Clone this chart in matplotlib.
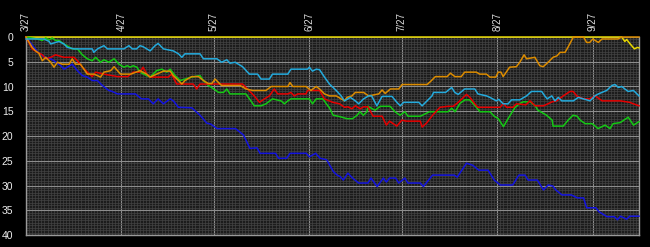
import matplotlib
matplotlib.use('Agg')
import matplotlib.pyplot as plt
import pandas as pd
from matplotlib.ticker import FixedLocator, MultipleLocator

# x = days since 3/27, y = games behind the leader
season_start = pd.Timestamp('2015-03-27')
season_end = pd.Timestamp('2015-10-12')
tick_dates = ['2015-03-27', '2015-04-27', '2015-05-27', '2015-06-27',
              '2015-07-27', '2015-08-27', '2015-09-27']
tick_labels = ['3/27', '4/27', '5/27', '6/27', '7/27', '8/27', '9/27']
gb_ticks = [0, 5, 10, 15, 20, 25, 30, 35, 40]

yellow = [(0, 0), (193.4, 0), (194.4, 0.9), (195, 0.5), (196, 1.3), (197.5, 2.4),
          (198.5, 2.1), (199, 2.2)]

orange = [(0, 0), (2, 2.1), (3.1, 2.8), (4.2, 3.3), (5.3, 4.8), (6.4, 4.1), (8, 5.1),
          (9.1, 6.1), (10.2, 5.1), (11.8, 5.5), (14, 5.5), (15, 4.4), (16.1, 5.5),
          (17.7, 5.5), (18.8, 6.5), (19.9, 7.5), (22, 7.5), (23.2, 7.8), (24.2, 8.1),
          (25.3, 7.1), (27.5, 6.8), (28.6, 6.0), (29.7, 6.8), (30.7, 7.5), (34, 7.5),
          (37, 6.8), (39.2, 7.5), (40.3, 8.1), (42.4, 7.5), (44.6, 6.9), (46.8, 6.9),
          (47.8, 7.8), (49.5, 8.8), (50.6, 9.5), (51.6, 8.8), (53.8, 8.0), (56, 8.0),
          (57.6, 8.8), (59.2, 9.4), (60.3, 9.4), (61.4, 8.5), (62.5, 9.2), (63.5, 9.8),
          (69.5, 9.8), (71.4, 10.5), (73.6, 10.8), (77.9, 10.8), (79.6, 10.0), (85, 10.0),
          (85.7, 9.2), (86.6, 10.0), (90.9, 10.0), (92.5, 10.8), (94.2, 10.0), (95.3, 10.5),
          (96.9, 11.5), (98.5, 11.9), (100.7, 11.9), (102.3, 12.5), (103.4, 12.9),
          (104.2, 12.2), (105.8, 11.9), (106.9, 11.2), (109.6, 11.2), (111.2, 11.9),
          (114.5, 11.5), (115.6, 10.7), (116.6, 11.4), (118.3, 10.5), (121, 10.5),
          (122.1, 9.6), (130.2, 9.6), (131.3, 9.0), (132.9, 8.0), (136.7, 8.0), (137.8, 7.3),
          (139.2, 8.0), (141.3, 8.0), (142.4, 7.1), (146.2, 7.1), (147.3, 7.5), (149.5, 7.5),
          (150.6, 8.1), (152.5, 8.1), (153.3, 7.1), (154.2, 7.1), (154.9, 8.0), (157, 6.1),
          (159.2, 6.0), (160.3, 5.1), (161.7, 3.6), (162.5, 4.4), (165.2, 4.1), (166.8, 5.8),
          (167.9, 6.0), (169.5, 5.1), (171.1, 4.1), (172.4, 3.8), (173.4, 3.1), (175, 3.1),
          (176, 2.0), (177.7, 0), (181, 0), (182, 1.1), (183, 1.1), (184, 0.4), (185.8, 1.1),
          (187, 0.4), (192.2, 0.4), (193.4, 0), (199, 0)]

cyan = [(0, 0.4), (5.8, 0.4), (7.5, 0.9), (8, 1.4), (9.6, 1.1), (10.7, 0.9), (12.3, 1.4),
        (13.4, 2.1), (15.6, 2.4), (21.5, 2.4), (22, 3.1), (23.2, 2.4), (25.3, 1.75),
        (26.4, 2.4), (31.8, 2.4), (33.4, 1.75), (34.5, 2.4), (35.9, 2.4), (37, 1.75),
        (38, 1.95), (39.2, 2.4), (40.3, 2.8), (41.9, 1.75), (42.9, 1.3), (44.6, 2.4),
        (47.8, 2.8), (49.5, 3.4), (50.6, 4.1), (51.6, 3.4), (56.5, 3.4), (57.6, 4.4),
        (62, 4.4), (63.5, 5.1), (65.2, 4.6), (66.2, 5.3), (67.9, 5.1), (70.3, 6.0),
        (72.5, 7.5), (75.2, 7.5), (76.3, 8.5), (79, 8.5), (80, 7.5), (85, 7.5), (86, 6.5),
        (91.4, 6.5), (92, 6.1), (93, 6.9), (94.2, 6.5), (95.3, 6.6), (96.9, 8.1),
        (98.5, 9.5), (100.7, 10.8), (102.3, 11.9), (103.4, 12.9), (105.3, 12.2),
        (106.9, 12.9), (108, 13.5), (109.6, 12.5), (111.2, 11.9), (112.2, 11.9),
        (113.9, 13.9), (115.6, 12.0), (118.8, 12.0), (120.4, 13.2), (121.5, 13.9),
        (122.6, 13.2), (127.5, 13.2), (128.6, 13.9), (130.2, 12.9), (131.8, 11.9),
        (132.3, 11.2), (136.2, 11.2), (137.2, 10.7), (138.2, 10.2), (139.2, 11.2),
        (140.3, 11.6), (142.4, 10.5), (145.7, 10.5), (146.7, 11.5), (149.5, 11.9),
        (150.6, 12.2), (152.7, 12.9), (153.5, 12.6), (154.9, 13.5), (156.5, 13.5),
        (157.6, 12.7), (160.3, 12.7), (162.5, 11.9), (164.1, 11.0), (167.4, 11.0),
        (168.4, 11.9), (169.2, 12.5), (170.7, 11.9), (171.7, 12.9), (172.8, 12.2),
        (173.9, 12.9), (177.7, 12.9), (179.3, 12.2), (183.1, 12.9), (184.7, 11.9),
        (185.8, 11.5), (188.5, 10.8), (190.2, 9.8), (191.2, 9.6), (192.3, 10.2),
        (193.4, 10.0), (194.4, 10.5), (195.5, 11.0), (197.2, 10.8), (199, 11.9)]

red = [(0, 0), (2, 2.4), (3.7, 3.1), (5.3, 3.6), (6.4, 4.4), (8, 4.1), (9.6, 3.6),
       (12.3, 4.1), (15.6, 4.1), (16.7, 4.8), (18.3, 6.1), (19.9, 7.1), (21.5, 8.0),
       (22.6, 7.1), (25.3, 7.5), (29.7, 8.0), (33, 8.0), (34.8, 7.1), (37, 7.1), (38, 6.1),
       (39.2, 7.5), (40.3, 8.1), (46.2, 8.1), (47.3, 7.5), (48.9, 9.5), (54.3, 9.5),
       (55.4, 10.5), (56.5, 9.5), (70.3, 9.5), (71.9, 10.5), (74.1, 11.9), (75.8, 13.2),
       (77.4, 12.5), (79, 11.9), (80.6, 10.5), (81.7, 11.5), (85, 11.5), (86, 11.2),
       (87.1, 11.9), (88.2, 11.5), (90.9, 11.5), (91.4, 10.8), (95.3, 10.8), (96.9, 12.5),
       (99.6, 13.2), (101.8, 13.5), (103.4, 14.2), (104.5, 14.1), (105.8, 14.5),
       (106.9, 13.9), (108.5, 14.5), (109.6, 14.1), (111, 14.1), (112.7, 16.0),
       (115.6, 16.0), (117, 17.8), (118, 17.0), (120.4, 18.0), (122, 16.8), (123.5, 17.0),
       (128, 17.0), (128.6, 18.2), (130, 17.4), (132, 15.8), (134.4, 14.2), (137, 14.0),
       (138.7, 14.0), (140.3, 13.2), (142, 12.2), (143, 11.6), (144.1, 12.2), (145.7, 13.5),
       (146.7, 14.2), (153.9, 14.2), (155, 13.4), (156, 14.2), (158.1, 14.2), (159.2, 13.5),
       (162.3, 13.7), (163.6, 12.9), (165.3, 13.9), (168, 13.9), (170.8, 13.1),
       (172.3, 12.9), (174.4, 11.9), (176.6, 11.0), (177.6, 11.0), (178.8, 11.9),
       (181, 12.5), (183, 12.5), (184.8, 11.9), (187, 12.9), (192.9, 12.9), (196, 13.2),
       (197.2, 13.5), (199, 13.9)]

green = [(0, 0), (3.7, 0.4), (5.3, 0.7), (6.4, 0.2), (7.5, 0.6), (8.5, 0.2), (9.6, 0.7),
         (10.7, 0.7), (12.3, 1.4), (15, 2.4), (16.7, 2.4), (18.3, 3.6), (19.9, 4.4),
         (21.5, 4.8), (22.6, 4.1), (24.2, 5.1), (25.3, 4.6), (26.9, 5.1), (28.6, 4.4),
         (30.2, 5.5), (31.8, 6.1), (32.9, 5.8), (33.8, 6.1), (34.8, 5.8), (36, 6.1),
         (37, 7.1), (39.2, 7.8), (40.3, 8.1), (42.4, 6.8), (44.1, 6.5), (45.7, 7.1),
         (46.8, 6.5), (48.4, 7.8), (50.1, 8.8), (51.6, 8.5), (53.8, 8.1), (56.5, 7.8),
         (57.6, 8.8), (59.2, 9.8), (60.3, 10.2), (62.5, 11.2), (64.1, 11.2), (65.2, 10.5),
         (66.2, 11.5), (71.4, 11.5), (73, 12.9), (74.1, 13.9), (76.3, 13.9), (77.9, 13.5),
         (80, 12.5), (82.8, 12.9), (83.9, 13.5), (85, 12.9), (86, 12.5), (92, 12.5),
         (93, 13.5), (94.2, 12.5), (96.4, 12.5), (97.5, 13.5), (98.5, 14.3), (99.7, 15.8),
         (102, 16.1), (104.2, 16.5), (106, 16.5), (107.5, 15.8), (108.4, 15.1),
         (109.5, 15.8), (110.7, 15.1), (111, 14.0), (113.3, 14.8), (115, 14.0), (118.2, 14.0),
         (119.8, 15.1), (121.4, 15.8), (123, 15.1), (124, 16.0), (128, 16.0), (131, 15.1),
         (137, 15.1), (138.2, 14.4), (139.3, 15.1), (140.9, 13.4), (142.5, 12.7),
         (144, 12.7), (145.8, 13.9), (147.4, 15.1), (150.6, 15.1), (152, 16.0),
         (153.3, 16.5), (155, 18.1), (156.5, 16.5), (158.8, 14.2), (160.4, 13.4),
         (161.4, 13.1), (163.6, 13.1), (165.3, 13.9), (166.2, 14.8), (169, 15.8),
         (170.8, 16.8), (171.1, 18.0), (174.4, 18.0), (176, 16.8), (177.6, 15.8),
         (178.9, 16.0), (179.9, 16.8), (181.5, 17.5), (183.8, 17.5), (185.7, 18.5),
         (188, 17.8), (189.6, 18.5), (190.6, 17.5), (192.9, 17.3), (195.5, 16.2),
         (197.2, 17.8), (199, 17.1)]

blue = [(0, 0), (2.6, 2.1), (4.2, 3.3), (5.3, 3.8), (6.4, 4.1), (8, 4.4), (9.1, 4.8),
        (11.3, 5.8), (12.3, 6.5), (13.4, 6.1), (15, 5.5), (16.7, 6.8), (18.3, 7.8),
        (19.9, 8.1), (21.5, 8.8), (23.2, 8.8), (24.8, 9.8), (26.9, 10.8), (28, 11.0),
        (29.7, 11.5), (35.5, 11.5), (37.5, 12.5), (39.7, 12.5), (41.3, 13.5), (42.9, 12.5),
        (44.6, 13.5), (46.8, 12.5), (47.8, 12.9), (49.5, 14.2), (53.8, 14.3), (56.5, 15.8),
        (58.7, 17.4), (60, 17.6), (62, 18.5), (68, 18.5), (70.6, 19.8), (72.7, 22.5),
        (75, 22.4), (76, 23.5), (81, 23.5), (82, 24.5), (84.6, 24.5), (85.7, 23.5),
        (91, 23.5), (92, 24.2), (94, 23.5), (95.5, 24.5), (97.6, 24.8), (99.8, 27.2),
        (101, 27.9), (102, 28.2), (103, 28.9), (104.5, 27.5), (106, 28.5), (108, 29.5),
        (111, 29.5), (112, 28.5), (114, 30.2), (116, 28.5), (117, 29.3), (118, 28.5),
        (120, 28.5), (121, 29.5), (123, 28.5), (124, 29.5), (128, 29.5), (129, 30.2),
        (132, 27.9), (139, 27.9), (140, 28.3), (143, 25.5), (145, 25.9), (147, 26.9),
        (150, 26.9), (152, 28.9), (154, 29.9), (158, 29.9), (160, 27.9), (162, 27.9),
        (163, 28.9), (166, 28.9), (168, 30.9), (169.5, 29.9), (171, 30.1), (172, 30.9),
        (174, 31.9), (177, 31.9), (179, 32.5), (181, 32.5), (182, 34.5), (185, 34.5),
        (186, 35.3), (188.6, 36.3), (191, 36.3), (192, 36.9), (193, 36.2), (195, 36.8),
        (196, 36.2), (199, 36.2)]

teams = [
    (yellow, '#e8d800'),
    (blue, '#1414e0'),
    (green, '#14c814'),
    (red, '#e60000'),
    (orange, '#dc8c00'),
    (cyan, '#24aadc'),
]

tick_days = [(pd.Timestamp(d) - season_start).days for d in tick_dates]
n_days = (season_end - season_start).days

fig = plt.figure(figsize=(6.5, 2.47), dpi=100, facecolor='black')
ax = fig.add_axes([26 / 650, 12 / 247, 613 / 650, 198 / 247])
ax.set_facecolor('#1c1c1c')

for pts, color in teams:
    xs = [p[0] for p in pts]
    ys = [p[1] for p in pts]
    ax.plot(xs, ys, color=color, lw=1.1, clip_on=False, zorder=3)

ax.set_xlim(0, n_days)
ax.set_ylim(40, 0)

ax.xaxis.set_major_locator(FixedLocator(tick_days))
ax.set_xticklabels(tick_labels)
ax.xaxis.set_minor_locator(MultipleLocator(1))
ax.yaxis.set_major_locator(FixedLocator(gb_ticks))
ax.yaxis.set_minor_locator(MultipleLocator(0.5))

ax.grid(which='minor', color='#444444', lw=0.5)
ax.grid(which='major', color='#8c8c8c', lw=0.8)
ax.set_axisbelow(True)

ax.xaxis.tick_top()
ax.tick_params(axis='x', which='both', length=0, pad=4, labelsize=7,
               labelcolor='#dddddd', labelrotation=90)
ax.tick_params(axis='y', which='both', length=0, pad=9, labelsize=7.5,
               labelcolor='#eeeeee')
for lbl in ax.get_xticklabels() + ax.get_yticklabels():
    lbl.set_family('Liberation Sans')

for side in ['left', 'bottom', 'right']:
    ax.spines[side].set_color('#9a9a9a')
    ax.spines[side].set_linewidth(1)
ax.spines['top'].set_visible(False)

fig.savefig('out.png', dpi=100, facecolor='black')
